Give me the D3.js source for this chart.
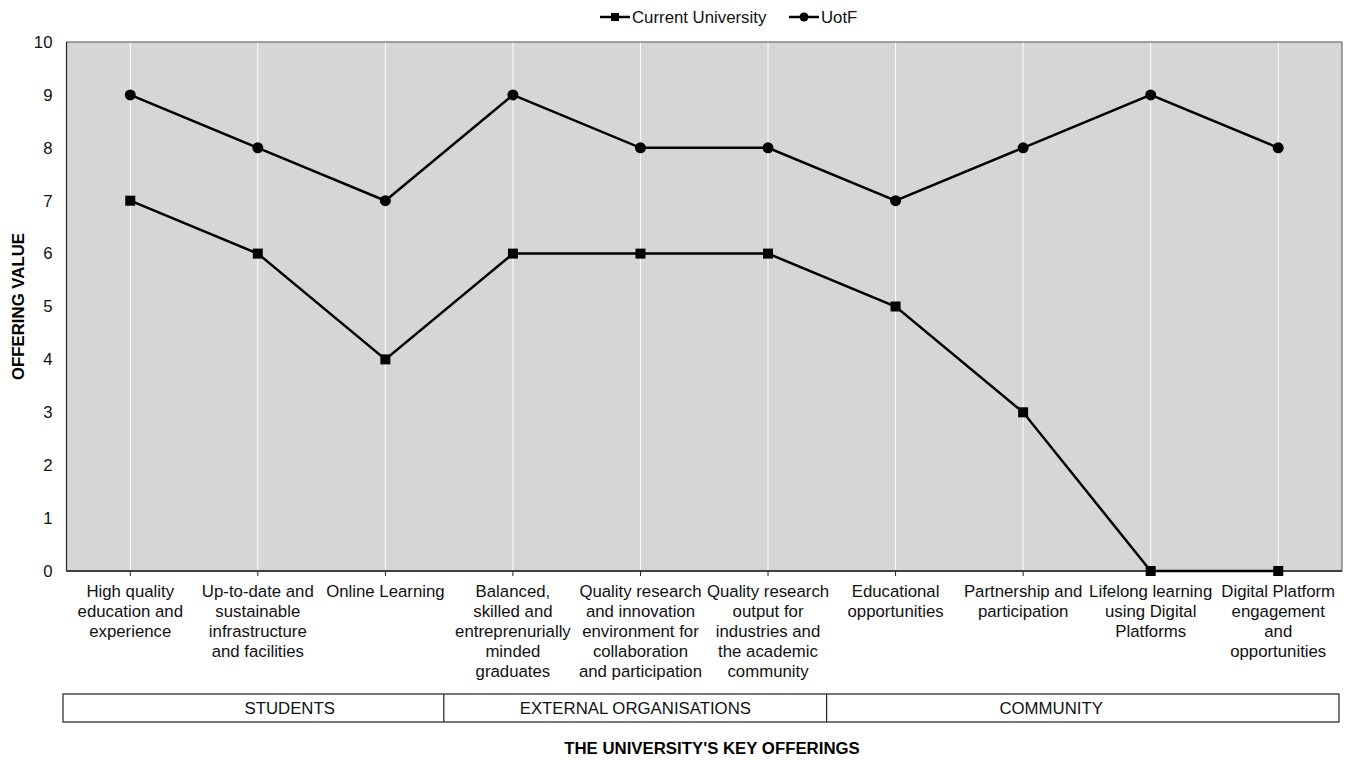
<!DOCTYPE html>
<html>
<head>
<meta charset="utf-8">
<script src="https://cdn.jsdelivr.net/npm/d3@7"></script>
<style>
  body { margin: 0; background: #fff; }
  svg { font-family: "Liberation Sans", Arial, sans-serif; }
</style>
</head>
<body>
<svg id="chart" width="1351" height="760"></svg>
<script>
const offerings = [
  ["High quality", "education and", "experience"],
  ["Up-to-date and", "sustainable", "infrastructure", "and facilities"],
  ["Online Learning"],
  ["Balanced,", "skilled and", "entreprenurially", "minded", "graduates"],
  ["Quality research", "and innovation", "environment for", "collaboration", "and participation"],
  ["Quality research", "output for", "industries and", "the academic", "community"],
  ["Educational", "opportunities"],
  ["Partnership and", "participation"],
  ["Lifelong learning", "using Digital", "Platforms"],
  ["Digital Platform", "engagement", "and", "opportunities"]
];
const currentUniversity = [7, 6, 4, 6, 6, 6, 5, 3, 0, 0];
const uotf = [9, 8, 7, 9, 8, 8, 7, 8, 9, 8];
const groupNames = ["STUDENTS", "EXTERNAL ORGANISATIONS", "COMMUNITY"];
const groupSpans = [[0, 3], [3, 6], [6, 10]];   // category index ranges
const groupLabelAt = [1.25, 3.96, 7.22];        // where the label sits, in category units
const yTicks = [0, 1, 2, 3, 4, 5, 6, 7, 8, 9, 10];

const svg = d3.select("#chart");
const plot = { left: 66.5, right: 1342, top: 42, bottom: 571 };
const fs = 16.8;

const idx = d3.range(offerings.length);
const x = d3.scaleBand().domain(idx).range([plot.left, plot.right]);
const cx = i => x(i) + x.bandwidth() / 2;
const y = d3.scaleLinear().domain([0, 10]).range([plot.bottom, plot.top]);

// plot background
svg.append("rect")
  .attr("x", plot.left).attr("y", plot.top)
  .attr("width", plot.right - plot.left).attr("height", plot.bottom - plot.top)
  .attr("fill", "#d6d6d6");

// white vertical gridlines at each category
svg.append("g").selectAll("line")
  .data(idx).enter().append("line")
  .attr("x1", d => cx(d)).attr("x2", d => cx(d))
  .attr("y1", plot.top).attr("y2", plot.bottom)
  .attr("stroke", "#fff").attr("stroke-width", 1);

// frame
svg.append("rect")
  .attr("x", plot.left).attr("y", plot.top)
  .attr("width", plot.right - plot.left).attr("height", plot.bottom - plot.top)
  .attr("fill", "none").attr("stroke", "#555").attr("stroke-width", 1);
svg.append("line")
  .attr("x1", plot.left).attr("x2", plot.right)
  .attr("y1", plot.bottom).attr("y2", plot.bottom)
  .attr("stroke", "#222").attr("stroke-width", 1.5);
svg.append("line")
  .attr("x1", plot.left).attr("x2", plot.left)
  .attr("y1", plot.top).attr("y2", plot.bottom)
  .attr("stroke", "#222").attr("stroke-width", 1.2);

// y axis
const yAxis = d3.axisLeft(y).tickValues(yTicks).tickSize(0).tickPadding(14);
const gy = svg.append("g").attr("transform", `translate(${plot.left},0)`).call(yAxis);
gy.select(".domain").remove();
gy.selectAll("text").attr("font-size", fs).attr("fill", "#111")
  .attr("font-family", "Liberation Sans, Arial, sans-serif");

// x axis ticks
const xAxis = d3.axisBottom(x).tickSize(5).tickFormat("");
const gx = svg.append("g").attr("transform", `translate(0,${plot.bottom})`).call(xAxis);
gx.select(".domain").remove();
gx.selectAll("line").attr("stroke", "#222");

// category labels
const catLabels = svg.append("g").attr("font-size", fs).attr("fill", "#111").attr("text-anchor", "middle");
offerings.forEach((lines, i) => {
  const t = catLabels.append("text").attr("x", cx(i)).attr("y", 597);
  lines.forEach((ln, k) => {
    t.append("tspan").attr("x", cx(i)).attr("dy", k === 0 ? 0 : 20).text(ln);
  });
});

// lines + markers
const line = d3.line().x((d, i) => cx(i)).y(d => y(d));
svg.append("path").datum(uotf)
  .attr("d", line).attr("fill", "none").attr("stroke", "#000").attr("stroke-width", 2.5);
svg.append("path").datum(currentUniversity)
  .attr("d", line).attr("fill", "none").attr("stroke", "#000").attr("stroke-width", 2.5);

svg.append("g").selectAll("circle")
  .data(uotf).enter().append("circle")
  .attr("cx", (d, i) => cx(i)).attr("cy", d => y(d)).attr("r", 5.5).attr("fill", "#000");
svg.append("g").selectAll("rect")
  .data(currentUniversity).enter().append("rect")
  .attr("x", (d, i) => cx(i) - 5).attr("y", d => y(d) - 5)
  .attr("width", 10).attr("height", 10).attr("fill", "#000");

// group box
const gx0 = plot.left - 3.5;
const gx1 = plot.right - 3;
const gScale = d3.scaleLinear().domain([0, offerings.length]).range([gx0, gx1]);
const boxTop = 694, boxH = 28;
const groups = svg.append("g");
groups.append("rect")
  .attr("x", gx0).attr("y", boxTop).attr("width", gx1 - gx0).attr("height", boxH)
  .attr("fill", "none").attr("stroke", "#222").attr("stroke-width", 1.2);
groupSpans.slice(1).forEach(s => {
  groups.append("line")
    .attr("x1", gScale(s[0]) - 2).attr("x2", gScale(s[0]) - 2)
    .attr("y1", boxTop).attr("y2", boxTop + boxH)
    .attr("stroke", "#222").attr("stroke-width", 1.2);
});
groupNames.forEach((name, i) => {
  groups.append("text")
    .attr("x", cx(0) + groupLabelAt[i] * x.bandwidth())
    .attr("y", boxTop + 20)
    .attr("text-anchor", "middle").attr("font-size", fs).attr("fill", "#111")
    .text(name);
});

// axis titles
svg.append("text")
  .attr("x", 712).attr("y", 754)
  .attr("text-anchor", "middle").attr("font-size", fs).attr("font-weight", "bold")
  .text("THE UNIVERSITY'S KEY OFFERINGS");
svg.append("text")
  .attr("transform", `translate(24,${(plot.top + plot.bottom) / 2}) rotate(-90)`)
  .attr("text-anchor", "middle").attr("font-size", fs).attr("font-weight", "bold")
  .text("OFFERING VALUE");

// legend
const legendItems = [
  { name: "Current University", shape: "square", x: 600 },
  { name: "UotF", shape: "circle", x: 789 }
];
const legend = svg.append("g");
legendItems.forEach(it => {
  const g = legend.append("g").attr("transform", `translate(${it.x},17)`);
  g.append("line").attr("x1", 0).attr("x2", 30).attr("stroke", "#000").attr("stroke-width", 2.5);
  if (it.shape === "square") {
    g.append("rect").attr("x", 11).attr("y", -4).attr("width", 8).attr("height", 8).attr("fill", "#000");
  } else {
    g.append("circle").attr("cx", 15).attr("r", 4.5).attr("fill", "#000");
  }
  g.append("text").attr("x", 32).attr("y", 6).attr("font-size", fs).attr("fill", "#111").text(it.name);
});
</script>
</body>
</html>
